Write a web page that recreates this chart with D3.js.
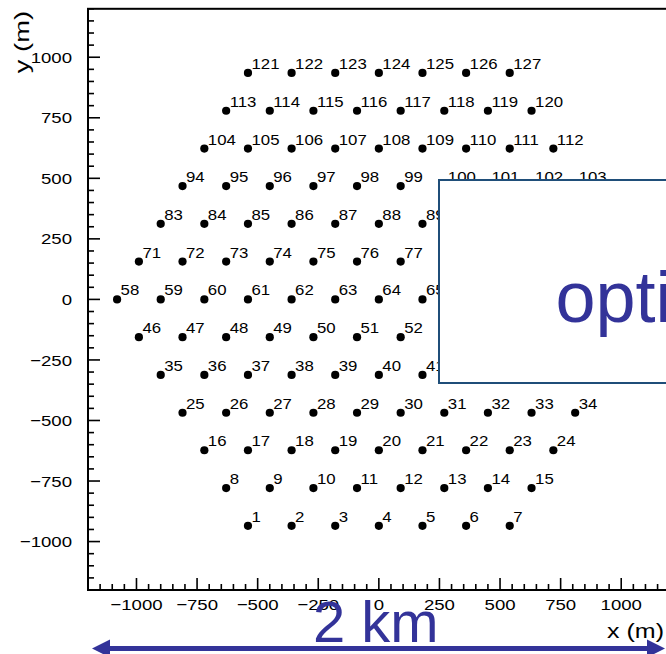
<!DOCTYPE html>
<html>
<head>
<meta charset="utf-8">
<script src="https://cdn.jsdelivr.net/npm/d3@7"></script>
<style>
  html, body { margin: 0; padding: 0; background: #fff; overflow: hidden; }
  svg { display: block; }
</style>
</head>
<body>
<div id="chart"></div>
<script>
// ---- data (metres) ----
// y position of each row of stations, bottom to top
const rowY = [-935, -779, -623, -468, -312, -156, 0, 156, 312, 468, 623, 779, 935];
// x positions of the stations in each row, bottom to top (stations numbered left→right, bottom→top)
const rowX = [
  [-540, -360, -180, 0, 180, 360, 540],
  [-630, -450, -270, -90, 90, 270, 450, 630],
  [-720, -540, -360, -180, 0, 180, 360, 540, 720],
  [-810, -630, -450, -270, -90, 90, 270, 450, 630, 810],
  [-900, -720, -540, -360, -180, 0, 180, 360, 540, 720, 900],
  [-990, -810, -630, -450, -270, -90, 90, 270, 450, 630, 810, 990],
  [-1080, -900, -720, -540, -360, -180, 0, 180, 360, 540, 720, 900, 1080],
  [-990, -810, -630, -450, -270, -90, 90, 270, 450, 630, 810, 990],
  [-900, -720, -540, -360, -180, 0, 180, 360, 540, 720, 900],
  [-810, -630, -450, -270, -90, 90, 270, 450, 630, 810],
  [-720, -540, -360, -180, 0, 180, 360, 540, 720],
  [-630, -450, -270, -90, 90, 270, 450, 630],
  [-540, -360, -180, 0, 180, 360, 540]
];
const xTickValues = [-1000, -750, -500, -250, 0, 250, 500, 750, 1000];
const xTickLabels = ["\u22121000", "\u2212750", "\u2212500", "\u2212250", "0", "250", "500", "750", "1000"];
const yTickValues = [1000, 750, 500, 250, 0, -250, -500, -750, -1000];
const yTickLabels = ["1000", "750", "500", "250", "0", "\u2212250", "\u2212500", "\u2212750", "\u22121000"];
const xTitle = "x (m)";
const yTitle = "y (m)";
const overlayText = "opti";
const scaleText = "2 km";

// build station table
const stations = [];
let id = 1;
rowY.forEach((y, r) => rowX[r].forEach(x => stations.push({ id: id++, x, y })));

// ---- layout ----
const W = 666, H = 654;
const blue = "#333399";
const svg = d3.select("#chart").append("svg").attr("width", W).attr("height", H)
  .style("background", "#fff");

const x = d3.scaleLinear().domain([-1200, 1200]).range([88, 669.7]);
const y = d3.scaleLinear().domain([-1200, 1200]).range([590, 8.8]);

const helv = "'Liberation Sans', Arial, Helvetica, sans-serif";
const SX = 1.2; // horizontal stretch of the original bitmap text

// minor + major ticks
const allTicks = d3.range(-1200, 1201, 50);
const g = svg.append("g");
g.selectAll("line.xt").data(allTicks).join("line")
  .attr("x1", d => x(d)).attr("x2", d => x(d))
  .attr("y1", y(-1200)).attr("y2", d => y(-1200) - (d % 250 === 0 ? 12 : 6))
  .attr("stroke", "#000").attr("stroke-width", 1.6);
g.selectAll("line.yt").data(allTicks).join("line")
  .attr("y1", d => y(d)).attr("y2", d => y(d))
  .attr("x1", x(-1200)).attr("x2", d => x(-1200) + (d % 250 === 0 ? 12 : 6))
  .attr("stroke", "#000").attr("stroke-width", 1.6);

// frame
svg.append("rect")
  .attr("x", x(-1200)).attr("y", y(1200))
  .attr("width", x(1200) - x(-1200)).attr("height", y(-1200) - y(1200))
  .attr("fill", "none").attr("stroke", "#000").attr("stroke-width", 2);

// tick labels
svg.selectAll("text.xl").data(xTickValues).join("text")
  .attr("transform", d => `translate(${x(d)},609.5) scale(${SX},1)`)
  .attr("text-anchor", "middle")
  .style("font-family", helv).style("font-size", "15.5px")
  .text((d, i) => xTickLabels[i]);
svg.selectAll("text.yl").data(yTickValues).join("text")
  .attr("transform", d => `translate(72,${y(d) + 5.6}) scale(${SX},1)`)
  .attr("text-anchor", "end")
  .style("font-family", helv).style("font-size", "15.5px")
  .text((d, i) => yTickLabels[i]);

// axis titles
svg.append("text")
  .attr("transform", "translate(29,11) rotate(-90) scale(1.3,1)")
  .attr("text-anchor", "end")
  .style("font-family", helv).style("font-size", "21px")
  .text(yTitle);
svg.append("text")
  .attr("transform", "translate(664,638) scale(1.25,1)")
  .attr("text-anchor", "end")
  .style("font-family", helv).style("font-size", "20px")
  .text(xTitle);

// stations
svg.selectAll("circle.st").data(stations).join("circle")
  .attr("cx", d => x(d.x)).attr("cy", d => y(d.y)).attr("r", 4.1).attr("fill", "#000");
svg.selectAll("text.st").data(stations).join("text")
  .attr("transform", d => `translate(${x(d.x) + 3.5},${y(d.y) - 4}) scale(${SX},1)`)
  .style("font-family", helv).style("font-size", "14px")
  .text(d => d.id);

// overlay box
svg.append("rect")
  .attr("x", 439).attr("y", 180).attr("width", 300).attr("height", 203)
  .attr("fill", "#fff").attr("stroke", "#1f4e79").attr("stroke-width", 2);
svg.append("text")
  .attr("x", 555.5).attr("y", 322)
  .style("font-family", helv).style("font-size", "72px")
  .attr("fill", blue)
  .text(overlayText);

// double arrow "2 km"
const ay = 648.5;
svg.append("line").attr("x1", 106).attr("x2", 650).attr("y1", ay).attr("y2", ay)
  .attr("stroke", blue).attr("stroke-width", 5);
svg.append("path").attr("d", `M92,${ay} L110,${ay - 9} L110,${ay + 9} Z`).attr("fill", blue);
svg.append("path").attr("d", `M665,${ay} L647,${ay - 9} L647,${ay + 9} Z`).attr("fill", blue);
svg.append("text")
  .attr("x", 313).attr("y", 642)
  .style("font-family", helv).style("font-size", "58px")
  .attr("fill", blue)
  .text(scaleText);
</script>
</body>
</html>
